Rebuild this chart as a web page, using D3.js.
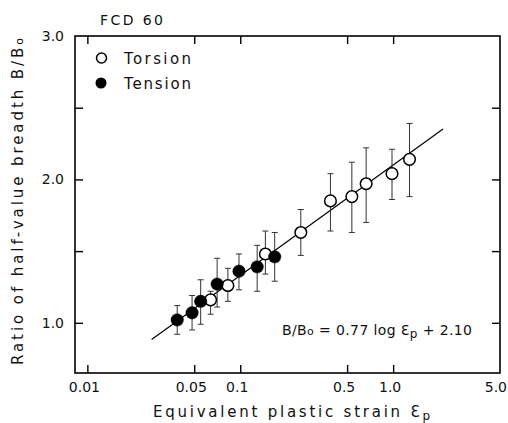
<!DOCTYPE html>
<html>
<head>
<meta charset="utf-8">
<script src="https://cdn.jsdelivr.net/npm/d3@7/dist/d3.min.js"></script>
<style>
  html, body { margin: 0; padding: 0; background: #fff; }
  svg { display: block; }
  text { font-family: "DejaVu Sans", sans-serif; fill: #111; }
</style>
</head>
<body>
<svg id="chart" width="508" height="423"></svg>
<script>
// ---- data ----
const title = "FCD 60";
const xTickValues = [0.01, 0.05, 0.1, 0.5, 1.0, 5.0];
const xTickLabels = ["0.01", "0.05", "0.1", "0.5", "1.0", "5.0"];
const yTickValues = [1.0, 1.5, 2.0, 2.5, 3.0];
const yTickLabels = ["1.0", "", "2.0", "", "3.0"];

const torsionStrain = [0.064, 0.083, 0.146, 0.249, 0.389, 0.537, 0.666, 0.983, 1.28];
const torsionRatio  = [1.16, 1.26, 1.48, 1.63, 1.85, 1.88, 1.97, 2.04, 2.14];
const torsionLow    = [1.06, 1.15, 1.34, 1.47, 1.64, 1.63, 1.70, 1.86, 1.88];
const torsionHigh   = [1.22, 1.38, 1.64, 1.79, 2.04, 2.12, 2.22, 2.21, 2.39];

const tensionStrain = [0.0387, 0.0484, 0.0551, 0.0706, 0.0981, 0.129, 0.168];
const tensionRatio  = [1.02, 1.07, 1.15, 1.27, 1.36, 1.39, 1.46];
const tensionLow    = [0.92, 0.95, 0.99, 1.11, 1.23, 1.22, 1.29];
const tensionHigh   = [1.12, 1.19, 1.30, 1.45, 1.48, 1.54, 1.63];

// regression line B/Bo = 0.77 log εp + 2.10, end points
const fitStrain = [0.0263, 2.12];
const fitRatio  = [0.884, 2.352];

// ---- layout ----
const svg = d3.select("#chart");
const L = 75, R = 500, T = 36, B = 373;
const x = d3.scaleLog().domain([0.0083, 5.0]).range([L, R]);
const y = d3.scaleLinear().domain([0.65, 3.0]).range([B, T]);

// frame
svg.append("rect").attr("x", L).attr("y", T).attr("width", R - L).attr("height", B - T)
  .attr("fill", "none").attr("stroke", "#000").attr("stroke-width", 1.6);

// ticks (inward, all four sides) via d3 axes
const xt = xTickValues.filter(v => v < 4.9);
const yt = yTickValues.filter(v => v < 2.9);
const tickLen = 8;
const axB = svg.append("g").attr("transform", `translate(0,${B})`)
  .call(d3.axisTop(x).tickValues(xt).tickSize(tickLen).tickFormat(""));
const axT = svg.append("g").attr("transform", `translate(0,${T})`)
  .call(d3.axisBottom(x).tickValues(xt).tickSize(tickLen).tickFormat(""));
const axL = svg.append("g").attr("transform", `translate(${L},0)`)
  .call(d3.axisRight(y).tickValues(yt).tickSize(tickLen).tickFormat(""));
const axR = svg.append("g").attr("transform", `translate(${R},0)`)
  .call(d3.axisLeft(y).tickValues(yt).tickSize(tickLen).tickFormat(""));
[axB, axT, axL, axR].forEach(g => {
  g.select(".domain").remove();
  g.selectAll("line").attr("stroke", "#000").attr("stroke-width", 1.4);
});

// x tick labels
svg.append("g").selectAll("text").data(xTickValues).join("text")
  .attr("x", (d, i) => i === xTickValues.length - 1 ? x(d) + 7 : x(d) - 3)
  .attr("y", 392)
  .attr("text-anchor", (d, i) => i === xTickValues.length - 1 ? "end" : "middle")
  .attr("font-size", 14)
  .text((d, i) => xTickLabels[i]);

// y tick labels
svg.append("g").selectAll("text").data(yTickValues).join("text")
  .attr("x", 64)
  .attr("y", d => y(d) + 5)
  .attr("text-anchor", "end")
  .attr("font-size", 14)
  .text((d, i) => yTickLabels[i]);

// title
svg.append("text").attr("x", 100).attr("y", 25).attr("font-size", 14)
  .attr("textLength", 63).attr("lengthAdjust", "spacing").text(title);

// axis titles
const xt1 = svg.append("text").attr("x", 153).attr("y", 417).attr("font-size", 15)
  .attr("textLength", 277).attr("lengthAdjust", "spacing");
xt1.append("tspan").text("Equivalent plastic strain  Ɛ");
xt1.append("tspan").attr("font-size", 12).attr("dy", 3).text("p");

const yt1 = svg.append("text").attr("transform", "translate(23,365) rotate(-90)")
  .attr("font-size", 15).attr("textLength", 327).attr("lengthAdjust", "spacing");
yt1.append("tspan").text("Ratio of half-value breadth  B/B");
yt1.append("tspan").attr("font-size", 11).text("o");

// fit line
const line = d3.line().x(d => x(d[0])).y(d => y(d[1]));
svg.append("path").datum(fitStrain.map((s, i) => [s, fitRatio[i]]))
  .attr("d", line).attr("fill", "none").attr("stroke", "#000").attr("stroke-width", 1.2);

// equation
const eq = svg.append("text").attr("x", 282).attr("y", 335).attr("font-size", 14)
  .attr("textLength", 190).attr("lengthAdjust", "spacing");
eq.append("tspan").text("B/B");
eq.append("tspan").attr("font-size", 11).text("o");
eq.append("tspan").text(" =  0.77 log Ɛ");
eq.append("tspan").attr("font-size", 12).attr("dy", 3).text("p");
eq.append("tspan").attr("dy", -3).text(" + 2.10");

// error bars
function errorBars(strain, lo, hi) {
  const g = svg.append("g").attr("stroke", "#333").attr("stroke-width", 1);
  const idx = d3.range(strain.length);
  g.selectAll("line.v").data(idx).join("line").attr("class", "v")
    .attr("x1", i => x(strain[i])).attr("x2", i => x(strain[i]))
    .attr("y1", i => y(lo[i])).attr("y2", i => y(hi[i]));
  g.selectAll("line.t").data(idx).join("line").attr("class", "t")
    .attr("x1", i => x(strain[i]) - 3).attr("x2", i => x(strain[i]) + 3)
    .attr("y1", i => y(hi[i])).attr("y2", i => y(hi[i]));
  g.selectAll("line.b").data(idx).join("line").attr("class", "b")
    .attr("x1", i => x(strain[i]) - 3).attr("x2", i => x(strain[i]) + 3)
    .attr("y1", i => y(lo[i])).attr("y2", i => y(lo[i]));
}
errorBars(torsionStrain, torsionLow, torsionHigh);
errorBars(tensionStrain, tensionLow, tensionHigh);

// points: torsion (open) then tension (filled)
svg.append("g").selectAll("circle").data(d3.range(torsionStrain.length)).join("circle")
  .attr("cx", i => x(torsionStrain[i])).attr("cy", i => y(torsionRatio[i]))
  .attr("r", 5.8).attr("fill", "#fff").attr("stroke", "#000").attr("stroke-width", 1.5);
svg.append("g").selectAll("circle").data(d3.range(tensionStrain.length)).join("circle")
  .attr("cx", i => x(tensionStrain[i])).attr("cy", i => y(tensionRatio[i]))
  .attr("r", 6.2).attr("fill", "#000").attr("stroke", "#000").attr("stroke-width", 0.5);

// legend
svg.append("circle").attr("cx", 101.5).attr("cy", 58).attr("r", 5)
  .attr("fill", "#fff").attr("stroke", "#000").attr("stroke-width", 1.5);
svg.append("circle").attr("cx", 101).attr("cy", 83).attr("r", 5.5).attr("fill", "#000");
svg.append("text").attr("x", 124).attr("y", 64).attr("font-size", 15)
  .attr("textLength", 67).attr("lengthAdjust", "spacing").text("Torsion");
svg.append("text").attr("x", 124).attr("y", 89).attr("font-size", 15)
  .attr("textLength", 67).attr("lengthAdjust", "spacing").text("Tension");
</script>
</body>
</html>
